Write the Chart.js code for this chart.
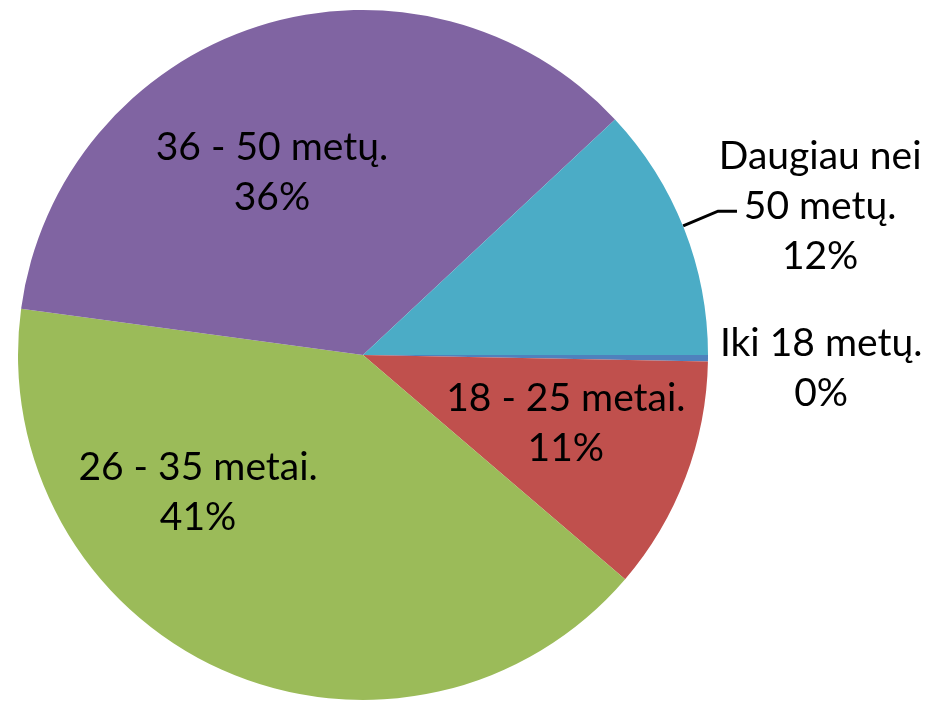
<!DOCTYPE html>
<html>
<head>
<meta charset="utf-8">
<script src="https://cdn.jsdelivr.net/npm/chart.js@4.4.0/dist/chart.umd.min.js"></script>
<style>
  html, body { margin: 0; padding: 0; background: #fff; }
  #wrap { width: 928px; height: 701px; }
</style>
</head>
<body>
<div id="wrap"><canvas id="pieChart" width="928" height="701"></canvas></div>
<script>
// slices, clockwise from 3 o'clock
const categories = [
    ['Iki 18 metų.'],
    ['18 - 25 metai.'],
    ['26 - 35 metai.'],
    ['36 - 50 metų.'],
    ['Daugiau nei', '50 metų.']
];
const values = [0.3, 11, 41, 36, 12];
const colors = ['#4F81BD', '#C0504D', '#9BBB59', '#8064A2', '#4BACC6'];

// label block centres, in units of the pie radius from its centre
const labelSpots = [
    [1.328, 0.038],
    [0.588, 0.197],
    [-0.478, 0.397],
    [-0.264, -0.530],
    [1.325, -0.432]
];

const total = values.reduce((a, b) => a + b, 0);

const labelPlugin = {
    id: 'sliceLabels',
    afterDatasetsDraw(chart) {
        const ctx = chart.ctx;
        const arcs = chart.getDatasetMeta(0).data;
        const cx = arcs[0].x, cy = arcs[0].y, r = arcs[0].outerRadius;

        // leader line for the last slice
        ctx.save();
        ctx.strokeStyle = '#000';
        ctx.lineWidth = 3;
        ctx.beginPath();
        ctx.moveTo(cx + 0.928 * r, cy - 0.374 * r);
        ctx.lineTo(cx + 1.029 * r, cy - 0.417 * r);
        ctx.lineTo(cx + 1.084 * r, cy - 0.417 * r);
        ctx.stroke();
        ctx.restore();

        ctx.save();
        ctx.font = '39px Lato';
        ctx.fillStyle = '#000';
        ctx.textAlign = 'center';
        ctx.textBaseline = 'middle';
        const lineH = 50;
        values.forEach((v, i) => {
            const lines = categories[i].concat([Math.round(v / total * 100) + '%']);
            const x = cx + labelSpots[i][0] * r;
            const y0 = cy + labelSpots[i][1] * r - (lines.length - 1) * lineH / 2;
            lines.forEach((t, j) => ctx.fillText(t, x, y0 + j * lineH));
        });
        ctx.restore();
    }
};

new Chart(document.getElementById('pieChart'), {
    type: 'pie',
    data: {
        labels: categories.map(c => c.join(' ')),
        datasets: [{
            data: values,
            backgroundColor: colors,
            borderWidth: 0,
            hoverOffset: 0
        }]
    },
    options: {
        responsive: false,
        animation: false,
        rotation: 90,
        layout: { padding: { left: 18, top: 10, right: 220, bottom: 1 } },
        plugins: {
            legend: { display: false },
            tooltip: { enabled: false }
        }
    },
    plugins: [labelPlugin]
});
</script>
</body>
</html>
